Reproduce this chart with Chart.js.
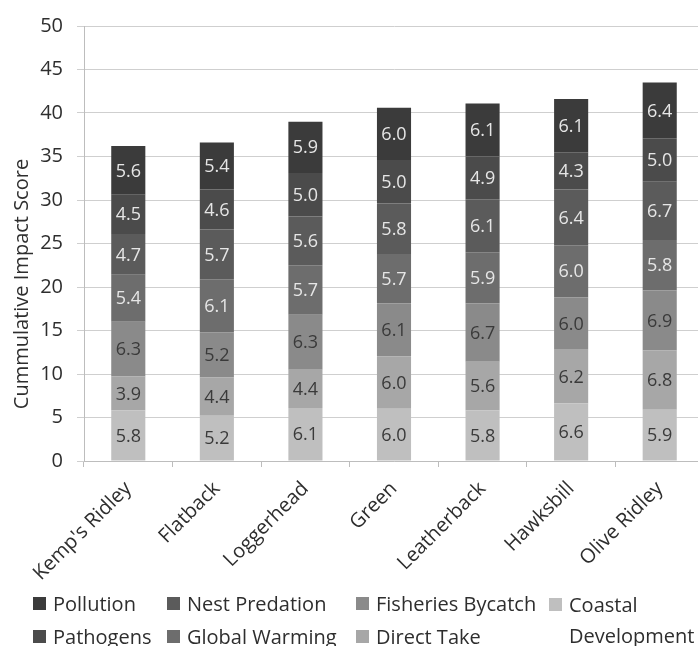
<!DOCTYPE html>
<html>
<head>
<meta charset="utf-8">
<script src="https://cdn.jsdelivr.net/npm/chart.js@4.4.1/dist/chart.umd.min.js"></script>
<style>
  html, body { margin: 0; padding: 0; background: #fff; overflow: hidden; }
  #wrap { position: relative; width: 706px; height: 646px; }
  #legend { position: absolute; left: 0; top: 0; width: 706px; height: 646px; pointer-events: none;
            font-family: "Open Sans", sans-serif; font-size: 20px; color: #2e2e2e; }
  .lg-item { position: absolute; display: flex; align-items: flex-start; line-height: 24px; white-space: nowrap; }
  .lg-box { width: 13px; height: 13px; margin-top: 5px; margin-right: 7px; flex: none; }
</style>
</head>
<body>
<div id="wrap">
  <canvas id="chart"></canvas>
  <div id="legend"></div>
</div>
<script>
// Turtle species and cumulative threat scores, stacked bottom to top
const categories = ["Kemp's Ridley", "Flatback", "Loggerhead", "Green", "Leatherback", "Hawksbill", "Olive Ridley"];
const coastalDevelopment = [5.8, 5.2, 6.1, 6.0, 5.8, 6.6, 5.9];
const directTake         = [3.9, 4.4, 4.4, 6.0, 5.6, 6.2, 6.8];
const fisheriesBycatch   = [6.3, 5.2, 6.3, 6.1, 6.7, 6.0, 6.9];
const globalWarming      = [5.4, 6.1, 5.7, 5.7, 5.9, 6.0, 5.8];
const nestPredation      = [4.7, 5.7, 5.6, 5.8, 6.1, 6.4, 6.7];
const pathogens          = [4.5, 4.6, 5.0, 5.0, 4.9, 4.3, 5.0];
const pollution          = [5.6, 5.4, 5.9, 6.0, 6.1, 6.1, 6.4];
const yTicks = [0, 5, 10, 15, 20, 25, 30, 35, 40, 45, 50];
const yTitle = "Cummulative Impact Score";

const FONT = '"Open Sans", sans-serif';
const AXIS_TXT = '#2e2e2e';
const DARK_TXT = '#3a3a3a';
const LIGHT_TXT = '#e6e6e6';

const series = [
  { label: 'Coastal Development', data: coastalDevelopment, color: '#bfbfbf', text: DARK_TXT },
  { label: 'Direct Take',         data: directTake,         color: '#a7a7a7', text: DARK_TXT },
  { label: 'Fisheries Bycatch',   data: fisheriesBycatch,   color: '#8a8a8a', text: DARK_TXT },
  { label: 'Global Warming',      data: globalWarming,      color: '#6d6d6d', text: LIGHT_TXT },
  { label: 'Nest Predation',      data: nestPredation,      color: '#5b5b5b', text: LIGHT_TXT },
  { label: 'Pathogens',           data: pathogens,          color: '#4b4b4b', text: LIGHT_TXT },
  { label: 'Pollution',           data: pollution,          color: '#3b3b3b', text: LIGHT_TXT }
];

// Value labels centred in each stacked segment
const segmentLabels = {
  id: 'segmentLabels',
  afterDatasetsDraw(chart) {
    const ctx = chart.ctx;
    ctx.save();
    ctx.font = '18px ' + FONT;
    ctx.textAlign = 'center';
    ctx.textBaseline = 'middle';
    chart.data.datasets.forEach((ds, i) => {
      const meta = chart.getDatasetMeta(i);
      meta.data.forEach((bar, j) => {
        ctx.fillStyle = ds.labelColor;
        ctx.fillText(ds.data[j].toFixed(1), bar.x, (bar.y + bar.base) / 2 + 1);
      });
    });
    ctx.restore();
  }
};

// Rotated y-axis title
const axisTitle = {
  id: 'axisTitle',
  afterDraw(chart) {
    const ctx = chart.ctx;
    ctx.save();
    ctx.translate(22, 284);
    ctx.rotate(-Math.PI / 2);
    ctx.font = '20px ' + FONT;
    ctx.fillStyle = AXIS_TXT;
    ctx.textAlign = 'center';
    ctx.textBaseline = 'middle';
    ctx.fillText(yTitle, 0, 0);
    ctx.restore();
  }
};

const chart = new Chart(document.getElementById('chart'), {
  type: 'bar',
  data: {
    labels: categories,
    datasets: series.map(s => ({
      label: s.label,
      data: s.data,
      backgroundColor: s.color,
      labelColor: s.text,
      borderWidth: 0,
      categoryPercentage: 1,
      barPercentage: 0.385
    }))
  },
  options: {
    responsive: true,
    maintainAspectRatio: false,
    animation: false,
    layout: { padding: { top: 24, right: 2, left: 0, bottom: 0 } },
    plugins: { legend: { display: false }, tooltip: { enabled: false } },
    scales: {
      x: {
        stacked: true,
        offset: true,
        grid: { display: true, drawOnChartArea: false, drawTicks: true, tickLength: 6, offset: true, color: '#bdbdbd' },
        border: { display: true, color: '#bdbdbd' },
        ticks: { minRotation: 45, maxRotation: 45, padding: 10, color: AXIS_TXT, font: { family: FONT, size: 20 } },
        afterFit(scale) { scale.height = 646 - 461; }
      },
      y: {
        stacked: true,
        min: 0,
        max: 50,
        afterBuildTicks(scale) { scale.ticks = yTicks.map(v => ({ value: v })); },
        grid: { color: '#cfcfcf', tickLength: 7 },
        border: { display: true, color: '#bdbdbd' },
        ticks: { padding: 14, color: AXIS_TXT, font: { family: FONT, size: 20 } },
        afterFit(scale) { scale.width = 84; }
      }
    }
  },
  plugins: [segmentLabels, axisTitle]
});

// Legend, laid out in columns of two (top of stack first)
(function buildLegend() {
  const host = document.getElementById('legend');
  const order = series.slice().reverse();
  const colX = [33, 167, 356, 549];
  const rowY = [592, 625];
  order.forEach((s, k) => {
    const col = Math.floor(k / 2), row = k % 2;
    const item = document.createElement('div');
    item.className = 'lg-item';
    item.style.left = colX[col] + 'px';
    item.style.top = rowY[row] + 'px';
    const box = document.createElement('span');
    box.className = 'lg-box';
    box.style.background = s.color;
    const txt = document.createElement('span');
    if (s.label === 'Coastal Development') {
      txt.innerHTML = 'Coastal<br>Development';
      txt.style.lineHeight = '31px';
      item.style.top = (rowY[row] - 3) + 'px';
      box.style.marginTop = '9px';
    } else {
      txt.textContent = s.label;
    }
    item.appendChild(box);
    item.appendChild(txt);
    host.appendChild(item);
  });
})();
</script>
</body>
</html>
